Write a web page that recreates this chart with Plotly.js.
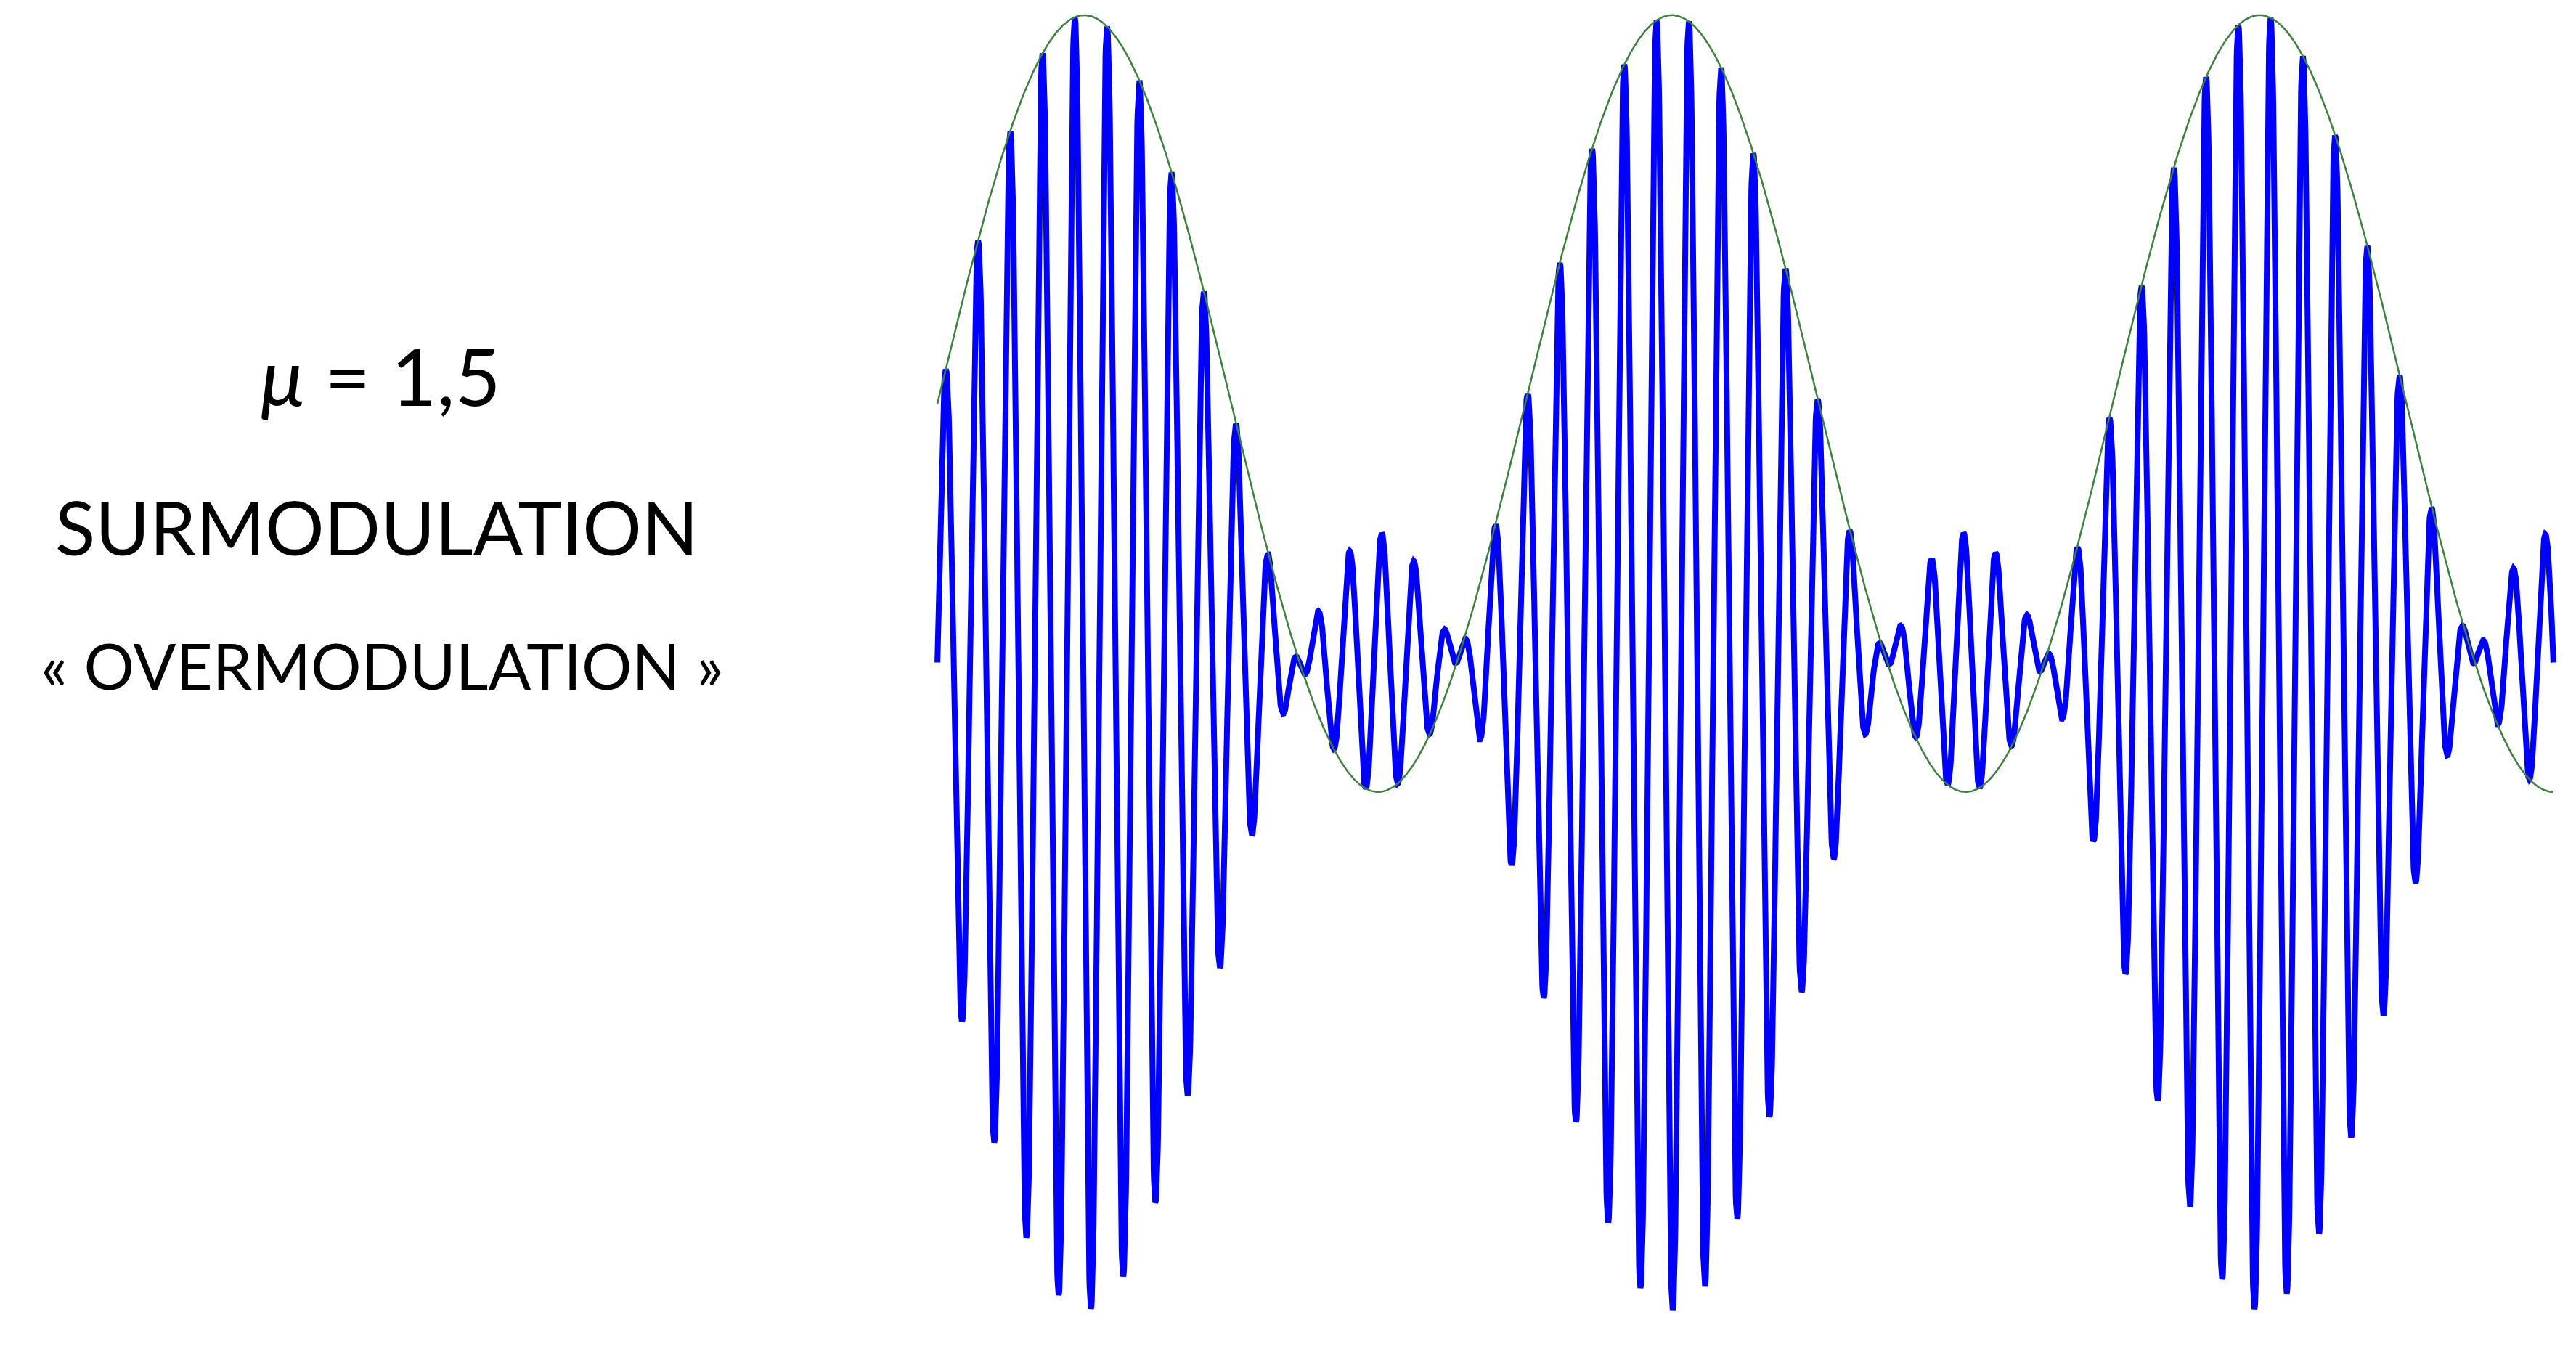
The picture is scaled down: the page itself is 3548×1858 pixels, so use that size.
<!DOCTYPE html>
<html>
<head>
<meta charset="utf-8">
<script src="https://cdn.plot.ly/plotly-3.0.1.min.js"></script>
<style>
  html, body { margin: 0; padding: 0; background: #ffffff; }
  #chart { width: 3548px; height: 1858px; }
</style>
</head>
<body>
<div id="chart"></div>
<script>
// ---- Values ----
// AM signal s(t) = (1 + mu*sin(2*pi*fm*t)) * sin(2*pi*fc*t), time in carrier periods
const modulationIndex = [1.5];          // mu (label "μ = 1,5"; envelope max 2.5, min -0.5)
const carrierCycles = [50];             // carrier periods across the drawn window
const modulationCycles = [2.75];        // envelope periods across the drawn window
const samplesPerCarrierCycle = [120];   // drawing resolution

const labelLines = ["<i>μ</i> = 1,5", "SURMODULATION", "« OVERMODULATION »"];

// ---- Build traces ----
const mu = modulationIndex[0];
const nC = carrierCycles[0];
const nM = modulationCycles[0];
const N = nC * samplesPerCarrierCycle[0];
const tEnd = nC;                        // time unit = one carrier period
const t = [], signal = [], envelope = [];
for (let i = 0; i <= N; i++) {
  const ti = tEnd * i / N;
  const env = 1 + mu * Math.sin(2 * Math.PI * (nM / tEnd) * ti);
  t.push(ti);
  envelope.push(env);
  signal.push(env * Math.sin(2 * Math.PI * ti));
}

const traces = [
  { x: t, y: signal, type: 'scatter', mode: 'lines',
    line: { color: '#0000ff', width: 8 }, hoverinfo: 'skip', showlegend: false },
  { x: t, y: envelope, type: 'scatter', mode: 'lines',
    line: { color: 'rgb(60,130,60)', width: 2.5 }, hoverinfo: 'skip', showlegend: false }
];

// plot area geometry (pixels) used only to place the side labels in paper units
const L = 1279.6, R = 19.6, T = 2.9, B = 35.5;
const W = 3548 - L - R, H = 1858 - T - B;
const px = x => (x - L) / W;
const py = y => (1858 - B - y) / H;

const font = 'Lato, "Open Sans", sans-serif';
const annotations = [
  { text: labelLines[0], x: px(524), y: py(517), size: 109 },
  { text: labelLines[1], x: px(518), y: py(726), size: 102 },
  { text: labelLines[2], x: px(526), y: py(917), size: 87 }
].map(a => ({
  text: a.text, x: a.x, y: a.y, xref: 'paper', yref: 'paper',
  xanchor: 'center', yanchor: 'middle', showarrow: false,
  font: { family: font, size: a.size, color: '#000000' }
}));

const layout = {
  width: 3548, height: 1858,
  margin: { l: L, r: R, t: T, b: B, pad: 0 },
  paper_bgcolor: '#ffffff', plot_bgcolor: '#ffffff',
  xaxis: { range: [-0.25, tEnd + 0.25], visible: false, showgrid: false, zeroline: false, fixedrange: true },
  yaxis: { range: [-2.55, 2.55], visible: false, showgrid: false, zeroline: false, fixedrange: true },
  annotations: annotations,
  showlegend: false
};

Plotly.newPlot('chart', traces, layout, { displayModeBar: false, staticPlot: true });
</script>
</body>
</html>
